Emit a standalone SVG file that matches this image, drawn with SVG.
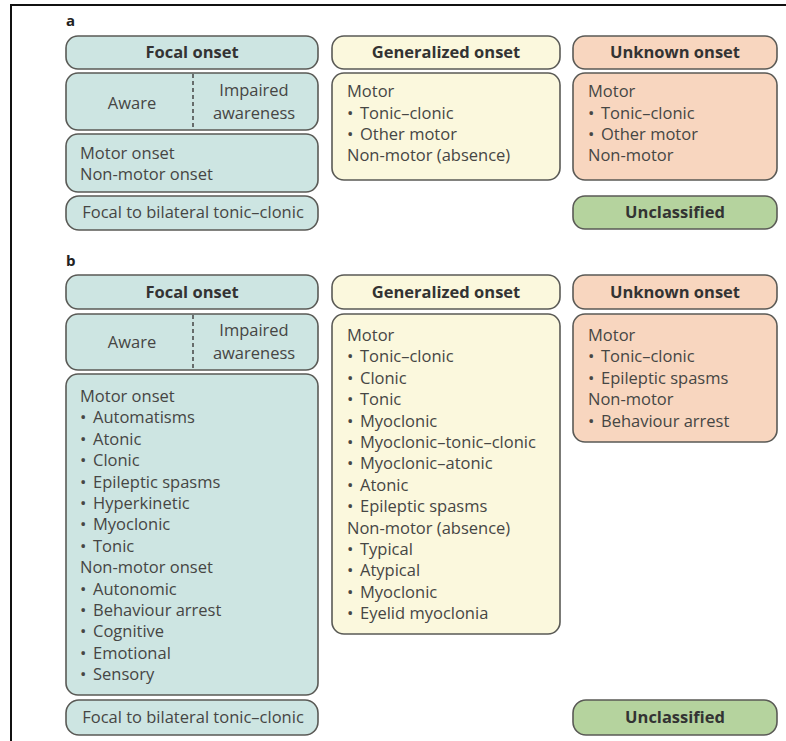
<svg xmlns="http://www.w3.org/2000/svg" width="786" height="741" viewBox="0 0 786 741">
<style>
.frame{stroke:#111;stroke-width:2;fill:none}
.box{stroke:#5a5a56;stroke-width:1.6}
.focal{fill:#cde5e2}
.gen{fill:#fbf8dd}
.unk{fill:#f8d6bf}
.uncl{fill:#b5d39e}
.hd{font-family:"Open Sans","Liberation Sans",sans-serif;font-weight:bold;font-size:16.5px;fill:#333;text-anchor:middle}
.tx{font-family:"Open Sans","Liberation Sans",sans-serif;font-size:16.5px;fill:#464644}
.c{text-anchor:middle}
.lbl{font-family:"Open Sans","Liberation Sans",sans-serif;font-weight:bold;font-size:15px;fill:#222}
.dash{stroke:#444;stroke-width:1.5;stroke-dasharray:4,3}
.b{font-size:17px}
</style>
<rect width="786" height="741" fill="#fff"/>
<path class="frame" d="M11,741 V5 H786"/>
<g id="panel-a">
<text class="lbl" x="66" y="26">a</text>
<g id="a-focal-head"><rect class="box focal" x="66" y="36" width="252" height="33" rx="12"/><text class="hd" x="192" y="58">Focal onset</text></g>
<g id="a-focal-aware"><rect class="box focal" x="66" y="73" width="252" height="57" rx="12"/><line class="dash" x1="193" y1="74" x2="193" y2="130"/><text class="tx c" x="132" y="109">Aware</text><text class="tx c" x="254" y="96">Impaired</text><text class="tx c" x="254" y="119">awareness</text></g>
<g id="a-focal-onset"><rect class="box focal" x="66" y="134" width="252" height="58" rx="12"/><text class="tx" x="80" y="159">Motor onset</text><text class="tx" x="80" y="180">Non-motor onset</text></g>
<g id="a-focal-bilateral"><rect class="box focal" x="66" y="196" width="252" height="34" rx="13"/><text class="tx c" x="193" y="218">Focal to bilateral tonic–clonic</text></g>
<g id="a-gen-head"><rect class="box gen" x="332" y="36" width="228" height="33" rx="12"/><text class="hd" x="446" y="58">Generalized onset</text></g>
<g id="a-gen-body"><rect class="box gen" x="332" y="73" width="228" height="107" rx="12"/>
<text class="tx" x="347" y="97">Motor</text>
<text class="tx" x="347" y="119"><tspan class="b">•</tspan><tspan x="360">Tonic–clonic</tspan></text>
<text class="tx" x="347" y="140"><tspan class="b">•</tspan><tspan x="360">Other motor</tspan></text>
<text class="tx" x="347" y="161">Non-motor (absence)</text></g>
<g id="a-unk-head"><rect class="box unk" x="573" y="36" width="204" height="33" rx="12"/><text class="hd" x="675" y="58">Unknown onset</text></g>
<g id="a-unk-body"><rect class="box unk" x="573" y="73" width="204" height="107" rx="12"/>
<text class="tx" x="588" y="97">Motor</text>
<text class="tx" x="588" y="119"><tspan class="b">•</tspan><tspan x="601">Tonic–clonic</tspan></text>
<text class="tx" x="588" y="140"><tspan class="b">•</tspan><tspan x="601">Other motor</tspan></text>
<text class="tx" x="588" y="161">Non-motor</text></g>
<g id="a-uncl"><rect class="box uncl" x="573" y="196" width="204" height="33" rx="12"/><text class="hd" x="675" y="218">Unclassified</text></g>
</g>
<g id="panel-b">
<text class="lbl" x="66" y="266">b</text>
<g id="b-focal-head"><rect class="box focal" x="66" y="275" width="252" height="34" rx="12"/><text class="hd" x="192" y="298">Focal onset</text></g>
<g id="b-focal-aware"><rect class="box focal" x="66" y="314" width="252" height="56" rx="12"/><line class="dash" x1="193" y1="315" x2="193" y2="370"/><text class="tx c" x="132" y="348">Aware</text><text class="tx c" x="254" y="336">Impaired</text><text class="tx c" x="254" y="359">awareness</text></g>
<g id="b-focal-onset"><rect class="box focal" x="66" y="374" width="252" height="321" rx="12"/>
<text class="tx" x="80" y="402">Motor onset</text>
<text class="tx" x="80" y="423.4"><tspan class="b">•</tspan><tspan x="93">Automatisms</tspan></text>
<text class="tx" x="80" y="444.8"><tspan class="b">•</tspan><tspan x="93">Atonic</tspan></text>
<text class="tx" x="80" y="466.2"><tspan class="b">•</tspan><tspan x="93">Clonic</tspan></text>
<text class="tx" x="80" y="487.6"><tspan class="b">•</tspan><tspan x="93">Epileptic spasms</tspan></text>
<text class="tx" x="80" y="509"><tspan class="b">•</tspan><tspan x="93">Hyperkinetic</tspan></text>
<text class="tx" x="80" y="530.4"><tspan class="b">•</tspan><tspan x="93">Myoclonic</tspan></text>
<text class="tx" x="80" y="551.8"><tspan class="b">•</tspan><tspan x="93">Tonic</tspan></text>
<text class="tx" x="80" y="573.2">Non-motor onset</text>
<text class="tx" x="80" y="594.6"><tspan class="b">•</tspan><tspan x="93">Autonomic</tspan></text>
<text class="tx" x="80" y="616"><tspan class="b">•</tspan><tspan x="93">Behaviour arrest</tspan></text>
<text class="tx" x="80" y="637.4"><tspan class="b">•</tspan><tspan x="93">Cognitive</tspan></text>
<text class="tx" x="80" y="658.8"><tspan class="b">•</tspan><tspan x="93">Emotional</tspan></text>
<text class="tx" x="80" y="680.2"><tspan class="b">•</tspan><tspan x="93">Sensory</tspan></text>
</g>
<g id="b-focal-bilateral"><rect class="box focal" x="66" y="700" width="252" height="35" rx="13"/><text class="tx c" x="193" y="723">Focal to bilateral tonic–clonic</text></g>
<g id="b-gen-head"><rect class="box gen" x="332" y="275" width="228" height="34" rx="12"/><text class="hd" x="446" y="298">Generalized onset</text></g>
<g id="b-gen-body"><rect class="box gen" x="332" y="314" width="228" height="320" rx="12"/>
<text class="tx" x="347" y="341">Motor</text>
<text class="tx" x="347" y="362.4"><tspan class="b">•</tspan><tspan x="360">Tonic–clonic</tspan></text>
<text class="tx" x="347" y="383.8"><tspan class="b">•</tspan><tspan x="360">Clonic</tspan></text>
<text class="tx" x="347" y="405.2"><tspan class="b">•</tspan><tspan x="360">Tonic</tspan></text>
<text class="tx" x="347" y="426.6"><tspan class="b">•</tspan><tspan x="360">Myoclonic</tspan></text>
<text class="tx" x="347" y="448"><tspan class="b">•</tspan><tspan x="360">Myoclonic–tonic–clonic</tspan></text>
<text class="tx" x="347" y="469.4"><tspan class="b">•</tspan><tspan x="360">Myoclonic–atonic</tspan></text>
<text class="tx" x="347" y="490.8"><tspan class="b">•</tspan><tspan x="360">Atonic</tspan></text>
<text class="tx" x="347" y="512.2"><tspan class="b">•</tspan><tspan x="360">Epileptic spasms</tspan></text>
<text class="tx" x="347" y="533.6">Non-motor (absence)</text>
<text class="tx" x="347" y="555"><tspan class="b">•</tspan><tspan x="360">Typical</tspan></text>
<text class="tx" x="347" y="576.4"><tspan class="b">•</tspan><tspan x="360">Atypical</tspan></text>
<text class="tx" x="347" y="597.8"><tspan class="b">•</tspan><tspan x="360">Myoclonic</tspan></text>
<text class="tx" x="347" y="619.2"><tspan class="b">•</tspan><tspan x="360">Eyelid myoclonia</tspan></text>
</g>
<g id="b-unk-head"><rect class="box unk" x="573" y="275" width="204" height="34" rx="12"/><text class="hd" x="675" y="298">Unknown onset</text></g>
<g id="b-unk-body"><rect class="box unk" x="573" y="314" width="204" height="128" rx="12"/>
<text class="tx" x="588" y="341">Motor</text>
<text class="tx" x="588" y="362.4"><tspan class="b">•</tspan><tspan x="601">Tonic–clonic</tspan></text>
<text class="tx" x="588" y="383.8"><tspan class="b">•</tspan><tspan x="601">Epileptic spasms</tspan></text>
<text class="tx" x="588" y="405.2">Non-motor</text>
<text class="tx" x="588" y="426.6"><tspan class="b">•</tspan><tspan x="601">Behaviour arrest</tspan></text>
</g>
<g id="b-uncl"><rect class="box uncl" x="573" y="700" width="204" height="35" rx="13"/><text class="hd" x="675" y="723">Unclassified</text></g>
</g>
<g id="connectors"/>
</svg>
